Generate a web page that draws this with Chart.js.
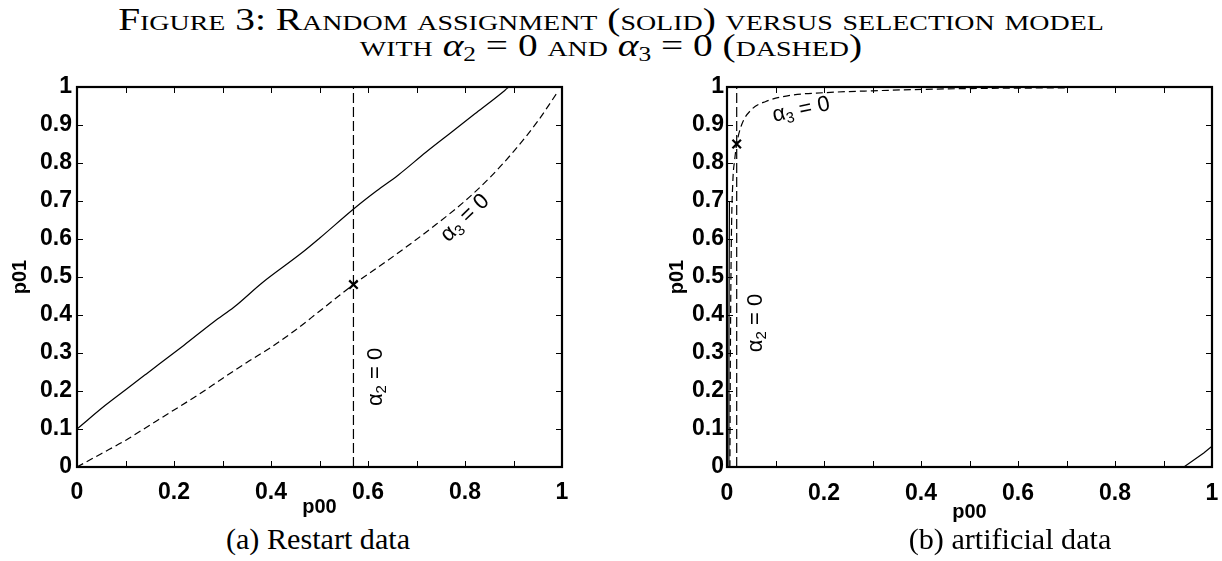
<!DOCTYPE html>
<html>
<head>
<meta charset="utf-8">
<script src="https://cdn.jsdelivr.net/npm/chart.js@4.4.1/dist/chart.umd.min.js"></script>
<style>
  body { margin: 0; width: 1222px; height: 561px; background: #fff; position: relative; overflow: hidden; }
  .title { position: absolute; left: 0; width: 1222px; text-align: center; font-family: "Liberation Serif", serif; font-variant: small-caps; font-size: 31px; line-height: 31px; color: #000; white-space: nowrap; transform: scaleX(1.27); transform-origin: 611px 0; }
  .title i { font-variant: normal; }
  .title sub { font-size: 20px; font-variant: normal; vertical-align: -5px; line-height: 0; }
  .caption { position: absolute; font-family: "Liberation Serif", serif; font-size: 29px; line-height: 29px; color: #000; white-space: nowrap; transform: translateX(-50%) scaleX(1.04); }
  canvas { position: absolute; }
</style>
</head>
<body>
<div class="title" style="top:4px">Figure 3: Random assignment (solid) versus selection model</div>
<div class="title" style="top:30px">with <i>α</i><sub>2</sub> = 0 and <i>α</i><sub>3</sub> = 0 (dashed)</div>

<canvas id="chartA" width="567" height="448" style="left:8px; top:73px"></canvas>
<canvas id="chartB" width="562" height="453" style="left:660px; top:73px"></canvas>

<div class="caption" style="left:318px; top:525px">(a) Restart data</div>
<div class="caption" style="left:1010px; top:525px">(b) artificial data</div>

<script>
// (a) Restart data
const aSolidX = [0, 0.059, 0.103, 0.143, 0.22, 0.283, 0.324, 0.382, 0.463, 0.5, 0.574, 0.618, 0.662, 0.72, 0.772, 0.824, 0.882, 0.89];
const aSolidY = [0.1, 0.163, 0.206, 0.245, 0.32, 0.383, 0.421, 0.485, 0.563, 0.602, 0.683, 0.727, 0.768, 0.829, 0.881, 0.933, 0.991, 1.0];
const aDashX = [0, 0.05, 0.1, 0.15, 0.2, 0.25, 0.3, 0.35, 0.4, 0.45, 0.5, 0.57, 0.62, 0.68, 0.74, 0.8, 0.85, 0.9, 0.95, 0.99];
const aDashY = [0, 0.035, 0.07, 0.11, 0.15, 0.19, 0.233, 0.275, 0.315, 0.36, 0.41, 0.48, 0.525, 0.58, 0.638, 0.7, 0.76, 0.83, 0.91, 0.985];
const aAlpha2 = 0.57;
const aCross = [0.57, 0.48];

// (b) artificial data
const bSolidX = [0.004, 0.004, 0.005];
const bSolidY = [0, 0.35, 0.7];
const bSolid2X = [0.942, 0.983, 1.0];
const bSolid2Y = [0, 0.037, 0.055];
const bDashX = [0.006, 0.007, 0.009, 0.012, 0.016, 0.02, 0.03, 0.05, 0.08, 0.13, 0.2, 0.3, 0.45, 0.7];
const bDashY = [0, 0.3, 0.6, 0.75, 0.81, 0.85, 0.9, 0.94, 0.962, 0.978, 0.985, 0.99, 0.995, 0.998];
const bAlpha2 = 0.02;
const bCross = [0.02, 0.85];

const tickValues = [0, 0.1, 0.2, 0.3, 0.4, 0.5, 0.6, 0.7, 0.8, 0.9, 1];

function pts(xs, ys) {
  return xs.map((x, i) => ({x: x, y: ys[i]}));
}

function fmt(v) {
  if (Math.abs(v) < 1e-9) return "0";
  if (Math.abs(v - 1) < 1e-9) return "1";
  return v.toFixed(1);
}

// box round the plot plus matlab-like inward ticks on all four sides
const frame = {
  id: "frame",
  afterDatasetsDraw(chart) {
    const ctx = chart.ctx;
    const a = chart.chartArea;
    const xs = chart.scales.x, ys = chart.scales.y;
    ctx.save();
    ctx.strokeStyle = "#000";
    ctx.lineWidth = 1;
    tickValues.forEach(v => {
      const px = Math.round(xs.getPixelForValue(v)) + 0.5;
      const py = Math.round(ys.getPixelForValue(v)) + 0.5;
      ctx.beginPath();
      ctx.moveTo(px, a.bottom); ctx.lineTo(px, a.bottom - 6);
      ctx.moveTo(px, a.top); ctx.lineTo(px, a.top + 6);
      ctx.moveTo(a.left, py); ctx.lineTo(a.left + 6, py);
      ctx.moveTo(a.right, py); ctx.lineTo(a.right - 6, py);
      ctx.stroke();
    });
    ctx.lineWidth = 2.2;
    ctx.strokeRect(a.left, a.top, a.right - a.left, a.bottom - a.top);
    ctx.restore();
  }
};

// "alpha_k = 0" labels, placed in data units
const alphaLabels = {
  id: "alphaLabels",
  afterDatasetsDraw(chart, args, opts) {
    const ctx = chart.ctx;
    const xs = chart.scales.x, ys = chart.scales.y;
    (opts.items || []).forEach(it => {
      const px = xs.getPixelForValue(it.x);
      const py = ys.getPixelForValue(it.y);
      const big = "22px 'Liberation Sans', Arial, sans-serif";
      const small = "15px 'Liberation Sans', Arial, sans-serif";
      ctx.save();
      ctx.translate(px, py);
      ctx.rotate(it.angle * Math.PI / 180);
      ctx.fillStyle = "#000";
      ctx.textBaseline = "middle";
      ctx.font = big;
      const wa = ctx.measureText("α").width;
      const wr = ctx.measureText(" = 0").width;
      ctx.font = small;
      const ws = ctx.measureText(it.sub).width;
      let x = -(wa + ws + wr) / 2;
      ctx.font = big;
      ctx.fillText("α", x, 0);
      x += wa;
      ctx.font = small;
      ctx.fillText(it.sub, x, 6);
      x += ws;
      ctx.font = big;
      ctx.fillText(" = 0", x, 0);
      ctx.restore();
    });
  }
};

function makeChart(id, datasets, labels, yWidth, xHeight, padRight, xPad, yPad, yTitlePad) {
  const tickFont = {family: "'Liberation Sans', Arial, sans-serif", weight: "bold", size: 23};
  const titleFont = {family: "'Liberation Sans', Arial, sans-serif", weight: "bold", size: 20};
  return new Chart(document.getElementById(id), {
    type: "scatter",
    data: {datasets: datasets},
    options: {
      responsive: false,
      animation: false,
      devicePixelRatio: 1,
      layout: {padding: {top: 14, right: padRight, left: 0, bottom: 0}},
      plugins: {legend: {display: false}, tooltip: {enabled: false}, alphaLabels: {items: labels}},
      scales: {
        x: {
          type: "linear", min: 0, max: 1,
          grid: {display: false, drawTicks: false},
          border: {display: false},
          ticks: {stepSize: 0.2, color: "#000", font: tickFont, padding: xPad, maxRotation: 0, callback: fmt},
          title: {display: true, text: "p00", color: "#000", font: titleFont, padding: {top: 0, bottom: 2}},
          afterFit: s => { s.height = xHeight; s.paddingLeft = 0; s.paddingRight = 0; }
        },
        y: {
          type: "linear", min: 0, max: 1,
          grid: {display: false, drawTicks: false},
          border: {display: false},
          ticks: {stepSize: 0.1, color: "#000", font: tickFont, padding: yPad, callback: fmt},
          title: {display: true, text: "p01", color: "#000", font: titleFont, padding: {top: yTitlePad, bottom: 0}},
          afterFit: s => { s.width = yWidth; s.paddingTop = 0; s.paddingBottom = 0; }
        }
      }
    },
    plugins: [frame, alphaLabels]
  });
}

function lineSet(data, dash, smooth) {
  return {data: data, showLine: true, pointRadius: 0, borderColor: "#000", borderWidth: 1.2, borderDash: dash, fill: false,
    cubicInterpolationMode: smooth ? "monotone" : "default", tension: 0};
}

function crossSet(p) {
  return {data: [{x: p[0], y: p[1]}], showLine: false, pointStyle: "crossRot", pointRadius: 6, borderColor: "#000", borderWidth: 2.2};
}

makeChart("chartA", [
  lineSet(pts(aSolidX, aSolidY), [], true),
  lineSet(pts(aDashX, aDashY), [7, 4], true),
  lineSet([{x: aAlpha2, y: 0}, {x: aAlpha2, y: 1}], [10, 4], false),
  crossSet(aCross)
], [
  {x: 0.80, y: 0.655, angle: -44, sub: "3"},
  {x: 0.617, y: 0.237, angle: -90, sub: "2"}
], 69, 54, 13, 12, 5, 0);

makeChart("chartB", [
  lineSet(pts(bSolidX, bSolidY), [], false),
  lineSet(pts(bSolid2X, bSolid2Y), [], false),
  lineSet(pts(bDashX, bDashY), [7, 4], true),
  lineSet([{x: bAlpha2, y: 0}, {x: bAlpha2, y: 1}], [10, 4], false),
  crossSet(bCross)
], [
  {x: 0.153, y: 0.94, angle: -12, sub: "3"},
  {x: 0.06, y: 0.379, angle: -90, sub: "2"}
], 67, 59, 10, 13, 3, 5);
</script>
</body>
</html>
